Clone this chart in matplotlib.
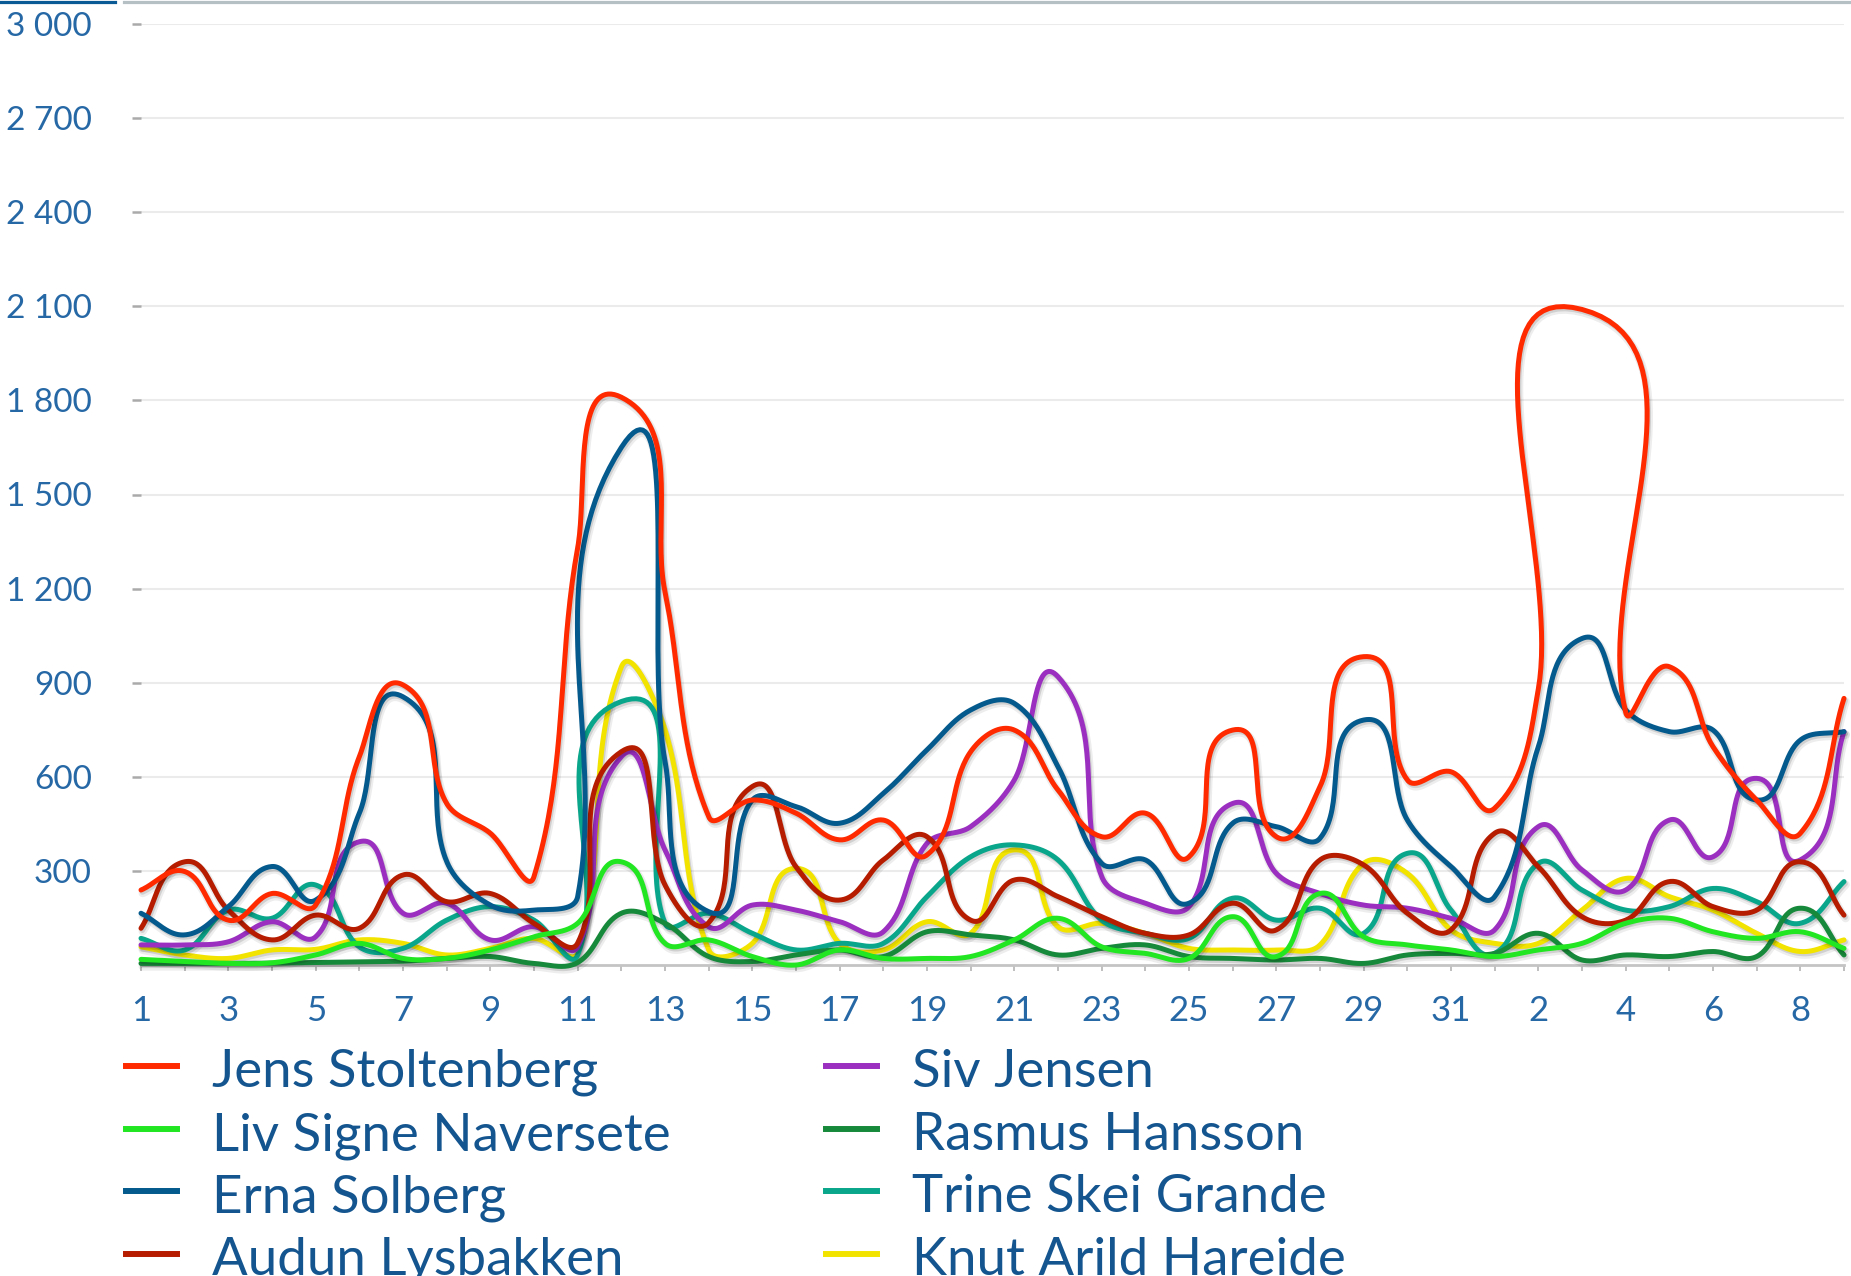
import numpy as np
import matplotlib
matplotlib.use('Agg')
import matplotlib.pyplot as plt
from matplotlib.lines import Line2D
import matplotlib.patheffects as pe

# donnees : 1 aout -> 9 septembre
days = np.arange(1, 41)
day_labels = [str(d) for d in range(1, 32)] + [str(d) for d in range(1, 10)]

names = ['Jens Stoltenberg', 'Liv Signe Naversete', 'Erna Solberg', 'Audun Lysbakken',
         'Siv Jensen', 'Rasmus Hansson', 'Trine Skei Grande', 'Knut Arild Hareide']
colors = ['#ff2a00', '#22e622', '#045a8d', '#b51c00',
          '#9a2fc0', '#17893a', '#0aa68b', '#f2e400']

jens = [239, 298, 143, 228, 191, 664, 893, 515, 420, 282,
        1330, 1810, 1190, 473, 526, 484, 399, 462, 351, 680,
        749, 558, 409, 484, 345, 749, 409, 569, 983, 590,
        616, 500, 880, 2090, 806, 951, 696, 526, 420, 850]
liv = [18, 11, 5, 7, 32, 69, 21, 21, 48, 90,
       133, 329, 69, 80, 27, 0, 48, 21, 21, 27,
       80, 149, 58, 37, 21, 154, 27, 228, 90, 64,
       48, 27, 48, 69, 133, 149, 106, 85, 106, 53]
erna = [165, 96, 186, 314, 207, 484, 855, 330, 191, 175,
        218, 1650, 650, 170, 526, 505, 452, 547, 686, 813,
        834, 632, 324, 335, 197, 452, 441, 404, 781, 462,
        314, 218, 696, 1041, 813, 744, 749, 526, 717, 744]
audun = [117, 329, 175, 80, 159, 117, 287, 202, 228, 133,
         70, 680, 255, 135, 569, 313, 207, 335, 409, 143,
         271, 218, 154, 101, 96, 197, 112, 335, 319, 165,
         112, 420, 313, 154, 143, 266, 186, 175, 329, 159]
siv = [64, 64, 74, 138, 90, 393, 165, 197, 80, 122,
       58, 664, 367, 122, 191, 175, 138, 106, 388, 441,
       590, 919, 282, 197, 186, 515, 292, 228, 191, 181,
       149, 112, 441, 303, 239, 462, 345, 595, 335, 744]
rasmus = [5, 5, 5, 6, 8, 10, 12, 21, 27, 5,
          8, 165, 133, 27, 11, 32, 48, 27, 106, 96,
          80, 32, 53, 64, 27, 21, 16, 21, 5, 32,
          37, 37, 101, 16, 32, 27, 43, 27, 181, 32]
trine = [85, 48, 175, 149, 255, 58, 53, 143, 186, 143,
         32, 840, 133, 165, 101, 48, 69, 69, 218, 345,
         383, 335, 143, 101, 85, 213, 143, 181, 101, 356,
         175, 37, 324, 239, 175, 186, 244, 202, 133, 266]
knut = [58, 32, 21, 48, 50, 80, 69, 32, 53, 85,
        40, 950, 750, 48, 69, 308, 69, 48, 138, 101,
        367, 122, 133, 101, 53, 48, 48, 64, 324, 292,
        112, 69, 69, 175, 276, 218, 175, 101, 43, 80]
series = [jens, liv, erna, audun, siv, rasmus, trine, knut]

yticks = np.arange(300, 3001, 300)

W, H = 1851, 1276
fig = plt.figure(figsize=(W / 100, H / 100), dpi=100)
fam = ['Lato', 'DejaVu Sans']
tick_col = '#2668a6'
text_col = '#14558f'

ax = fig.add_axes([141 / W, (H - 965) / H, (1844 - 141) / W, (965 - 24) / H])
ax.set_xlim(1, 40)
ax.set_ylim(0, 3000)


def courbe(xs, ys, t=0.35, n=40):
    # spline de Bezier calculee en pixels (tangente normalisee, longueur = corde)
    P = ax.transData.transform(np.column_stack([xs, ys]).astype(float))
    pts = []
    for i in range(len(P) - 1):
        p0 = P[max(i - 1, 0)]
        p1 = P[i]
        p2 = P[i + 1]
        p3 = P[min(i + 2, len(P) - 1)]
        d = np.hypot(*(p2 - p1))
        u1 = (p2 - p0) / np.hypot(*(p2 - p0))
        u2 = (p3 - p1) / np.hypot(*(p3 - p1))
        c1 = p1 + t * d * u1
        c2 = p2 - t * d * u2
        s = np.linspace(0, 1, n)[:, None]
        b = (1 - s) ** 3 * p1 + 3 * (1 - s) ** 2 * s * c1 + 3 * (1 - s) * s ** 2 * c2 + s ** 3 * p2
        pts.append(b if i == 0 else b[1:])
    pts = np.vstack(pts)
    out = ax.transData.inverted().transform(pts)
    return out[:, 0], out[:, 1]


ombre = [pe.SimpleLineShadow(offset=(1.2, -2.2), shadow_color='k', alpha=0.07, linewidth=6),
         pe.SimpleLineShadow(offset=(1.0, -1.6), shadow_color='k', alpha=0.12),
         pe.Normal()]

# on dessine a l'envers pour que Jens soit au-dessus
for k in range(len(series) - 1, -1, -1):
    xx, yy = courbe(days, series[k])
    ax.plot(xx, yy, color=colors[k], lw=3.6, solid_capstyle='round',
            solid_joinstyle='round', clip_on=False, path_effects=ombre, zorder=3 + (8 - k) * 0.1)

ax.set_yticks(yticks)
ax.set_yticklabels(['{:,}'.format(v).replace(',', ' ') for v in yticks])
ax.set_xticks(days)
ax.set_xticklabels([lab if i % 2 == 0 else '' for i, lab in enumerate(day_labels)])
ax.yaxis.grid(True, color='#ebebeb', lw=1.5)
ax.set_axisbelow(True)
for s in ['top', 'right', 'left']:
    ax.spines[s].set_visible(False)
ax.spines['bottom'].set_color('#c4c4c4')
ax.spines['bottom'].set_linewidth(2)
ax.tick_params(axis='y', length=6.5, width=1.8, color='#aaaaaa', pad=29,
               labelsize=24, labelcolor=tick_col)
ax.tick_params(axis='x', length=4.5, width=1.2, color='#b4b4b4', pad=17,
               labelsize=25, labelcolor=tick_col)
for lab in ax.get_xticklabels() + ax.get_yticklabels():
    lab.set_family(fam)

# legende faite a la main
rows = [1066, 1129, 1191, 1254]
for k, nom in enumerate(names):
    col, row = k // 4, k % 4
    x0 = [126, 826][col]
    y = 1 - rows[row] / H
    fig.add_artist(Line2D([x0 / W, (x0 + 51) / W], [y, y], color=colors[k], lw=4.3))
    fig.text((x0 + 86) / W, 1 - (rows[row] + 21) / H, nom, fontsize=38, family=fam,
             color=text_col, va='baseline', ha='left')

# bandeau du haut
fig.add_artist(Line2D([0, 115 / W], [1 - 1.5 / H] * 2, color='#0a5a96', lw=2.3))
fig.add_artist(Line2D([124 / W, 1], [1 - 1.5 / H] * 2, color='#b5c0c5', lw=2.3))

plt.savefig('out.png', dpi=100)
